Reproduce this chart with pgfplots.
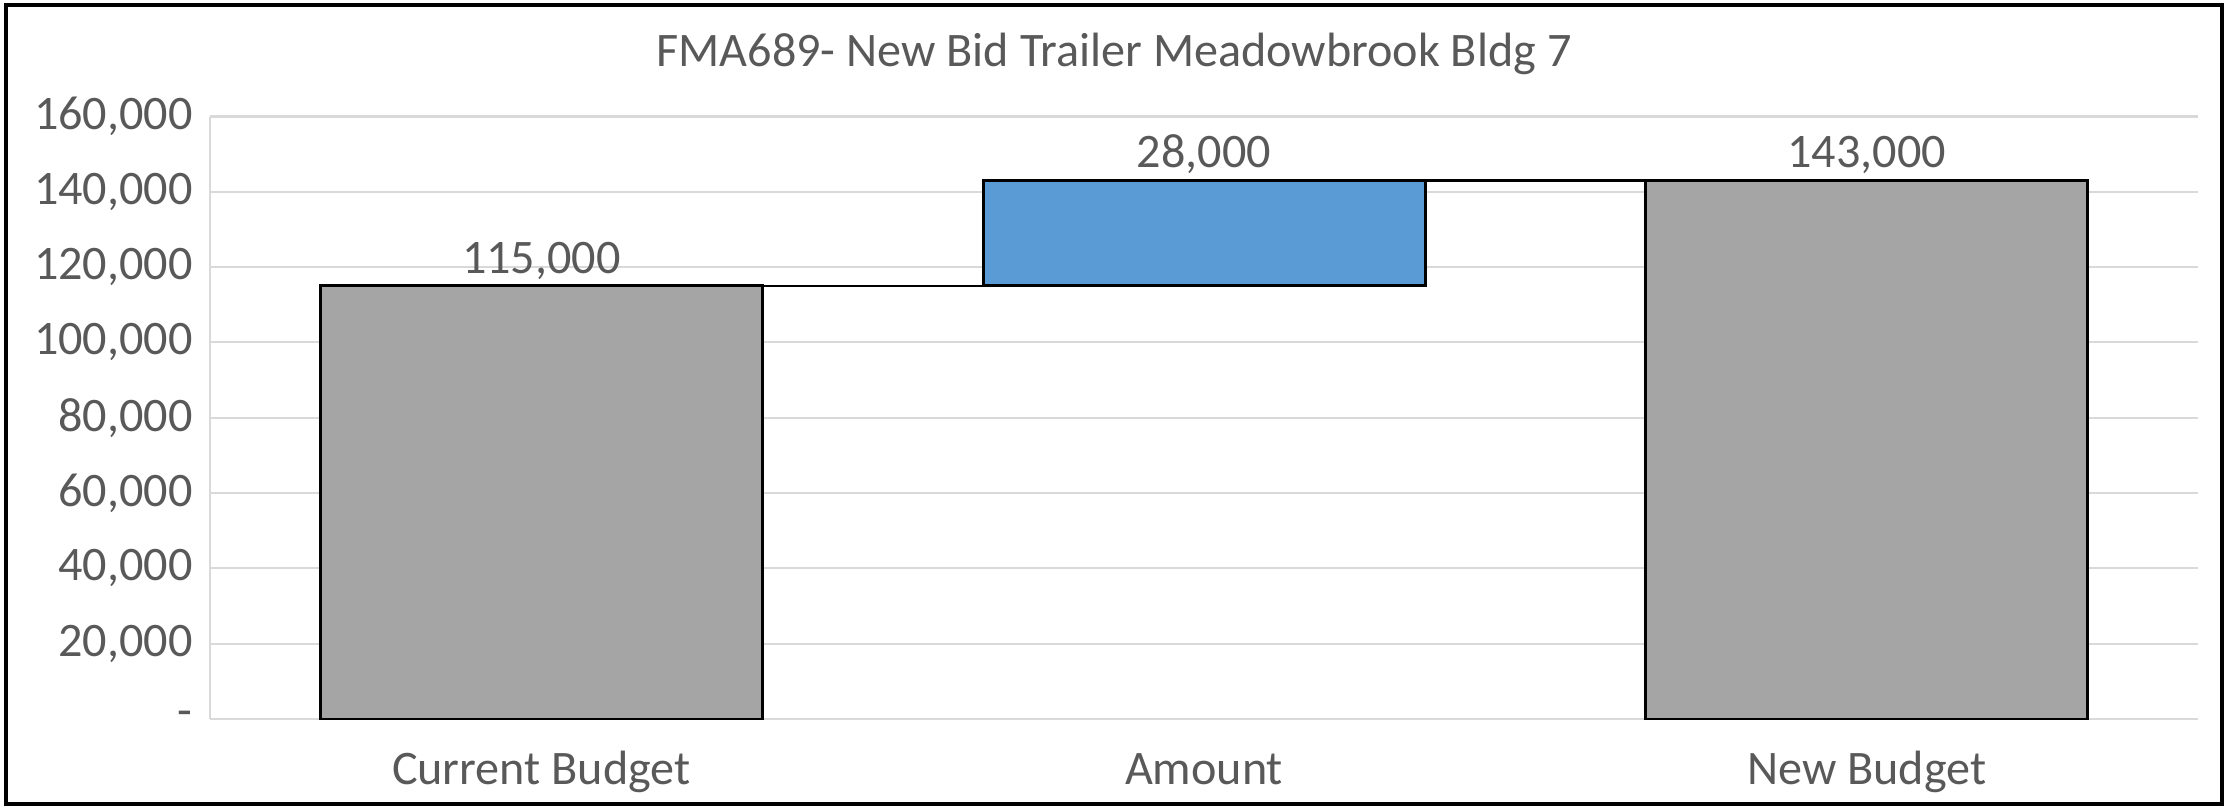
\documentclass[border=0pt]{standalone}
\usepackage{pgfplots}
\pgfplotsset{compat=1.18}
\usepackage{fontspec}
\setmainfont{Carlito}
\definecolor{barGray}{HTML}{A5A5A5}
\definecolor{barBlue}{HTML}{5B9BD5}
\definecolor{txtGray}{HTML}{595959}
\definecolor{gridGray}{HTML}{D9D9D9}
\newcommand{\cf}{\fontsize{13.7}{16}\selectfont}
\begin{document}
\begin{tikzpicture}[x=1cm,y=1cm]
\useasboundingbox (0,0) rectangle (22.28,8.08);
\fill[white] (0,0) rectangle (22.28,8.08);
\draw[black, line width=1.1pt] (0.06,0.04) rectangle (22.22,8.03);
\begin{axis}[
  at={(2.10cm,0.89cm)}, anchor=south west,
  scale only axis, width=19.88cm, height=6.025cm,
  xmin=-0.5, xmax=2.5, ymin=0, ymax=160000,
  ybar stacked, bar width=0.667,
  axis x line=none,
  axis y line*=left,
  y axis line style={draw=gridGray, line width=0.6pt},
  scaled y ticks=false,
  ytick={0,20000,40000,60000,80000,100000,120000,140000,160000},
  yticklabels={{-},{20,000},{40,000},{60,000},{80,000},{100,000},{120,000},{140,000},{160,000}},
  ymajorgrids, grid style={gridGray, line width=0.6pt},
  major tick length=0pt,
  tick label style={font=\cf, text=txtGray},
  yticklabel style={xshift=-0.5mm},
  clip=false,
]
\addplot[draw=none, fill=none] coordinates {(0,0) (1,115000) (2,0)};
\addplot[fill=barGray, draw=black, line width=0.85pt] coordinates {(0,115000) (1,0) (2,143000)};
\addplot[fill=barBlue, draw=black, line width=0.85pt] coordinates {(0,0) (1,28000) (2,0)};
\end{axis}
\begin{axis}[
  at={(2.10cm,0.89cm)}, anchor=south west,
  scale only axis, width=19.88cm, height=6.025cm,
  xmin=-0.5, xmax=2.5, ymin=0, ymax=160000,
  axis lines=none, clip=false,
]
\addplot[black, line width=0.6pt] coordinates {(0.3335,115000) (0.6665,115000)};
\addplot[black, line width=0.6pt] coordinates {(1.3335,143000) (1.6665,143000)};
\node[font=\cf, text=txtGray, anchor=south, yshift=-0.6mm] at (axis cs:0,115000) {115,000};
\node[font=\cf, text=txtGray, anchor=south, yshift=-0.6mm] at (axis cs:1,143000) {28,000};
\node[font=\cf, text=txtGray, anchor=south, yshift=-0.6mm] at (axis cs:2,143000) {143,000};
\node[font=\cf, text=txtGray, anchor=base] at (axis cs:0,0) [yshift=-6.5mm] {Current Budget};
\node[font=\cf, text=txtGray, anchor=base] at (axis cs:1,0) [yshift=-6.5mm] {Amount};
\node[font=\cf, text=txtGray, anchor=base] at (axis cs:2,0) [yshift=-6.5mm] {New Budget};
\end{axis}
\node[font=\cf, text=txtGray] at (11.14,7.54) {FMA689- New Bid Trailer Meadowbrook Bldg 7};
\end{tikzpicture}
\end{document}
